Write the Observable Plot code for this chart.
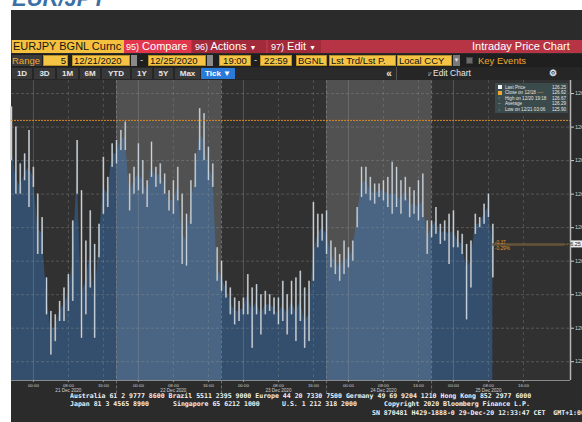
<!DOCTYPE html>
<html><head><meta charset="utf-8">
<script src="https://cdn.jsdelivr.net/npm/d3@7"></script>
<script src="https://cdn.jsdelivr.net/npm/@observablehq/plot@0.6"></script>
<style>
html,body{margin:0;padding:0;}
body{width:582px;height:422px;overflow:hidden;position:relative;background:#fff;font-family:"Liberation Sans",Arial,sans-serif;}
.a{position:absolute;white-space:pre;overflow:hidden;box-sizing:border-box;}
.r1{top:40px;height:13px;line-height:13px;font-size:11px;color:#fff;}
.r2{top:55px;height:11px;line-height:10px;font-size:9.5px;color:#111;}
.y{background:#f5c445;border:1px solid #b8902a;padding:0 1px;}
.r3{top:68px;height:11px;line-height:11px;font-size:8px;font-weight:bold;color:#e6e6e6;background:#383838;text-align:center;}
.ft{font-family:"DejaVu Sans Mono",monospace;font-size:6.55px;font-weight:bold;color:#f2f2f2;line-height:8px;height:8px;}
.lg{position:absolute;left:0;width:73px;height:5.5px;line-height:5.5px;font-size:4.6px;color:#e4e4e4;white-space:pre;}
.lg .v{position:absolute;right:2px;top:0;}
</style></head>
<body>
<div class="a" style="left:0;top:0;width:582px;height:10px;background:#fff;">
  <span style="position:absolute;left:12px;top:-12px;font-size:22px;line-height:22px;font-weight:bold;font-style:italic;color:#3c6fa6;">EUR/JPY</span>
</div>
<div class="a" style="left:11px;top:10px;width:571px;height:412px;background:#2b2b2b;"></div>

<!-- row 1 -->
<div class="a r1" style="left:11px;width:571px;background:#b73444;"></div>
<div class="a r1" style="left:12px;width:112px;background:#f4c03e;color:#151515;padding-left:1px;">EURJPY BGNL Curnc</div>
<div class="a r1" style="left:124px;width:67px;background:#e2364c;padding-left:2px;"><span style="font-size:9px">95)</span> Compare</div>
<div class="a r1" style="left:192px;width:74px;background:#a32a3b;padding-left:3px;"><span style="font-size:9px">96)</span> Actions <span style="font-size:7px">▼</span></div>
<div class="a r1" style="left:268px;width:53px;background:#a32a3b;padding-left:3px;"><span style="font-size:9px">97)</span> Edit <span style="font-size:7px">▼</span></div>
<div class="a r1" style="left:472px;width:110px;">Intraday Price Chart</div>

<!-- row 2 -->
<div class="a" style="left:11px;top:54px;width:571px;height:13px;background:#1f1f1f;"></div>
<div class="a r2" style="left:12px;width:30px;background:#3b3b3b;color:#f0a830;line-height:11px;">Range</div>
<div class="a r2 y" style="left:43px;width:25px;text-align:right;">5</div>
<div class="a r2 y" style="left:72px;width:58px;">12/21/2020</div>
<div class="a r2" style="left:131px;width:6px;background:#8a8a8a;"></div>
<div class="a r2" style="left:140px;width:6px;color:#ddd;">-</div>
<div class="a r2 y" style="left:148px;width:58px;">12/25/2020</div>
<div class="a r2" style="left:207px;width:6px;background:#8a8a8a;"></div>
<div class="a r2 y" style="left:219px;width:32px;text-align:center;">19:00</div>
<div class="a r2" style="left:254px;width:6px;color:#ddd;">-</div>
<div class="a r2 y" style="left:260px;width:32px;text-align:center;">22:59</div>
<div class="a r2 y" style="left:296px;width:31px;">BGNL</div>
<div class="a r2 y" style="left:329px;width:67px;">Lst Trd/Lst P.</div>
<div class="a r2 y" style="left:397px;width:55px;">Local CCY</div>
<div class="a r2" style="left:453px;width:7px;background:#7a7a7a;color:#ddd;font-size:6px;text-align:center;">▼</div>
<div class="a" style="left:466px;top:57px;width:7px;height:7px;background:#6a6a6a;border:1px solid #444;"></div>
<div class="a r2" style="left:478px;width:60px;color:#f0a830;line-height:11px;">Key Events</div>

<!-- row 3 -->
<div class="a" style="left:11px;top:67px;width:571px;height:13px;background:#262626;"></div>
<div class="a r3" style="left:12px;width:20px;">1D</div>
<div class="a r3" style="left:34px;width:21px;">3D</div>
<div class="a r3" style="left:57px;width:21px;">1M</div>
<div class="a r3" style="left:80px;width:20px;">6M</div>
<div class="a r3" style="left:102px;width:28px;">YTD</div>
<div class="a r3" style="left:132px;width:20px;">1Y</div>
<div class="a r3" style="left:154px;width:19px;">5Y</div>
<div class="a r3" style="left:175px;width:25px;">Max</div>
<div class="a r3" style="left:201px;width:34px;background:#2a7ad9;color:#fff;">Tick ▼</div>
<div class="a r3" style="left:236px;width:160px;background:#2a2a2a;"></div>
<div class="a r3" style="left:384px;width:10px;background:transparent;font-size:10px;">«</div>
<div class="a" style="left:396px;top:67px;width:1px;height:13px;background:#555;"></div>
<div class="a r3" style="left:428px;width:60px;background:transparent;font-weight:normal;font-size:8.5px;text-align:left;"><span style="font-size:6px">⁞⁄</span> Edit Chart</div>
<div class="a r3" style="left:546px;width:14px;background:transparent;font-size:9px;">⚙</div>

<div id="chart" class="a" style="left:11px;top:80px;width:571px;height:318px;overflow:visible;"></div>

<!-- legend -->
<div id="legend" class="a" style="left:495px;top:83px;width:73px;height:30px;background:rgba(60,76,76,0.95);"></div>

<!-- footer -->
<div class="a ft" style="left:70px;top:392px;width:512px;">Australia 61 2 9777 8600 Brazil 5511 2395 9000 Europe 44 20 7330 7500 Germany 49 69 9204 1210 Hong Kong 852 2977 6000</div>
<div class="a ft" style="left:70px;top:400px;width:100px;">Japan 81 3 4565 8900</div>
<div class="a ft" style="left:173px;top:400px;width:100px;">Singapore 65 6212 1000</div>
<div class="a ft" style="left:282px;top:400px;width:100px;">U.S. 1 212 318 2000</div>
<div class="a ft" style="left:384px;top:400px;width:198px;">Copyright 2020 Bloomberg Finance L.P.</div>
<div class="a ft" style="left:372px;top:409px;width:210px;">SN 870481 H429-1888-0 29-Dec-20 12:33:47 CET  GMT+1:00</div>

<script>
// ---- data (hourly bars from 20 Dec 2020 19:00) ----
const startTime = "2020-12-20T19:00:00Z";
const hi = [
126.66,126.60,126.49,126.52,126.59,126.48,126.40,126.33,126.15,126.05,
126.04,126.08,126.12,126.16,126.32,126.56,126.41,126.26,126.35,126.25,
126.31,126.51,126.45,126.55,126.56,126.59,126.615,126.46,126.48,126.55,
126.50,126.44,126.555,126.48,126.49,126.46,126.41,126.44,126.48,126.40,
126.34,126.44,126.52,126.655,126.64,126.54,126.49,126.24,126.20,126.14,
126.12,126.09,126.08,126.09,126.16,126.12,126.13,126.10,126.11,126.10,
126.09,126.09,126.14,126.10,126.14,126.15,126.17,126.12,126.14,126.375,
126.34,126.34,126.35,126.26,126.24,126.22,126.26,126.24,126.26,126.36,
126.48,126.48,126.45,126.43,126.43,126.44,126.45,126.495,126.48,126.44,
126.45,126.42,126.41,126.44,126.46,126.32,126.32,126.36,126.31,126.32,
126.34,126.35,126.29,126.28,126.25,126.26,126.34,126.33,126.37,126.40,
126.31];
const lo = [
126.50,126.40,126.40,126.44,126.36,126.42,126.22,126.22,126.04,125.92,
125.96,126.02,126.02,126.05,126.08,126.40,125.97,126.04,126.12,125.97,
126.21,126.34,126.36,126.48,126.49,126.53,126.53,126.35,126.40,126.41,
126.40,126.36,126.45,126.42,126.43,126.40,126.35,126.34,126.38,126.19,
126.185,126.31,126.42,126.53,126.50,126.44,126.42,126.14,126.11,126.09,
126.04,126.01,126.02,126.04,126.04,125.94,126.04,125.98,126.04,126.05,
126.04,126.01,126.02,125.98,126.04,125.96,126.02,125.94,125.96,126.14,
126.24,126.26,126.22,126.18,126.16,126.14,126.16,126.18,126.20,126.30,
126.39,126.40,126.38,126.37,126.39,126.38,126.36,126.34,126.36,126.34,
126.38,126.33,126.34,126.32,126.33,126.22,126.27,126.28,126.25,126.26,
126.19,126.24,126.24,126.22,126.025,126.12,126.28,126.30,126.31,126.33,
126.15];
const close = [
126.54,126.45,126.42,126.46,126.48,126.45,126.30,126.28,126.10,126.00,
126.00,126.05,126.07,126.10,126.20,126.46,126.10,126.14,126.22,126.08,
126.26,126.42,126.40,126.52,126.52,126.56,126.57,126.40,126.44,126.46,
126.44,126.40,126.48,126.45,126.46,126.42,126.38,126.38,126.42,126.28,
126.26,126.36,126.46,126.58,126.56,126.48,126.45,126.18,126.15,126.12,
126.08,126.05,126.05,126.06,126.10,126.05,126.08,126.04,126.07,126.07,
126.06,126.04,126.07,126.04,126.08,126.05,126.08,126.02,126.04,126.22,
126.28,126.30,126.28,126.22,126.20,126.18,126.20,126.21,126.23,126.33,
126.43,126.44,126.41,126.40,126.41,126.41,126.40,126.40,126.40,126.38,
126.41,126.37,126.37,126.36,126.38,126.27,126.30,126.32,126.28,126.29,
126.28,126.29,126.26,126.25,126.18,126.20,126.31,126.31,126.34,126.36,
126.25];

const sessionStarts = ["2020-12-20T19:00:00Z","2020-12-21T19:00:00Z","2020-12-22T19:00:00Z","2020-12-23T19:00:00Z","2020-12-24T19:00:00Z"];
const chartEnd = "2020-12-26T02:45:00Z";
const tickDays = ["2020-12-21","2020-12-22","2020-12-23","2020-12-24","2020-12-25"];
const tickHours = ["00:00","08:00","16:00"];
const yTicks = [125.9,126.0,126.1,126.2,126.3,126.4,126.5,126.6,126.7];
const yDomain = [125.844, 126.739];
const prevClose = 126.62;
const lastPrice = 126.25;
const changeLabels = ["-0.37","-0.29%"];
const legendLabels = ["Last Price","Close on 12/18","High on 12/20 19:18","Average","Low on 12/21 03:06"];
const legendValues = ["126.25","126.62","126.67","126.29","125.90"];

// ---- build ----
const HOUR = 3600e3;
const t0 = new Date(startTime);
const rows = hi.map((h, i) => ({t: new Date(+t0 + i * HOUR), hi: h, lo: lo[i], close: close[i]}));
const tEnd = new Date(chartEnd);
const lastT = rows[rows.length - 1].t;
const bands = sessionStarts.map((s, i) => ({x1: new Date(s), x2: i < sessionStarts.length - 1 ? new Date(sessionStarts[i + 1]) : tEnd, fill: i % 2 ? "#515151" : "#313131"}));
const dividers = sessionStarts.slice(1).map(s => new Date(s));
const xTicks = tickDays.flatMap(d => tickHours.map(h => new Date(d + "T" + h + ":00Z")));
const midnights = xTicks.filter(d => d.getUTCHours() === 0);
const others = xTicks.filter(d => d.getUTCHours() !== 0);
const dateTicks = tickDays.map(d => new Date(d + "T08:00:00Z"));
const [yMin, yMax] = yDomain;

const tag = (index, scales) => {
  const g = d3.create("svg:g");
  const x = scales.x(tEnd), y = scales.y(lastPrice);
  g.append("rect").attr("x", x + 1).attr("y", y - 3.5).attr("width", 16).attr("height", 7).attr("fill", "#ececec");
  g.append("text").attr("x", x + 2.5).attr("y", y).attr("dy", "0.35em").attr("font-size", 5.5).attr("fill", "#222").text(lastPrice.toFixed(2));
  return g.node();
};

const chart = Plot.plot({
  width: 571, height: 318,
  marginLeft: 0, marginRight: 12, marginTop: 0, marginBottom: 18,
  style: {background: "transparent", fontFamily: "Liberation Sans, Arial, sans-serif", overflow: "visible"},
  x: {type: "utc", domain: [t0, tEnd]},
  y: {domain: yDomain},
  marks: [
    Plot.rect(bands, {x1: "x1", x2: "x2", y1: yMin, y2: yMax, fill: "fill"}),
    Plot.areaY(rows, {x: "t", y1: yMin, y2: "close", fill: "rgb(57,150,250)", fillOpacity: 0.3}),
    Plot.ruleY(yTicks, {stroke: "#9a9a9a", strokeOpacity: 0.35, strokeDasharray: "3,2"}),
    Plot.ruleX(midnights, {stroke: "#9a9a9a", strokeOpacity: 0.35}),
    Plot.ruleX(others, {stroke: "#9a9a9a", strokeOpacity: 0.3, strokeDasharray: "3,3"}),
    Plot.ruleX(dividers, {y1: yMin - 0.04, y2: yMax, stroke: "#808080", strokeOpacity: 0.8, strokeDasharray: "3,2"}),
    Plot.ruleX(rows, {x: "t", y1: "lo", y2: "hi", stroke: "#8f8f8f", strokeWidth: 1.8}),
    Plot.ruleX(rows, {x: "t", y1: "lo", y2: "hi", stroke: "#d6e6f4", strokeWidth: 0.8}),
    Plot.ruleY([prevClose], {stroke: "#d98c1f", strokeWidth: 1, strokeDasharray: "2,1"}),
    Plot.ruleY([lastPrice], {x1: lastT, x2: tEnd, stroke: "#66553a", strokeWidth: 2.5}),
    Plot.text([changeLabels[0]], {x: lastT, y: lastPrice, text: d => d, dx: 2, dy: -1.5, textAnchor: "start", fontSize: 4.8, fill: "#e8962a"}),
    Plot.text([changeLabels[1]], {x: lastT, y: lastPrice, text: d => d, dx: 2, dy: 4.5, textAnchor: "start", fontSize: 4.8, fill: "#e8962a"}),
    Plot.ruleY([yMin], {stroke: "#8a8a8a"}),
    Plot.ruleX([tEnd], {stroke: "#b4b4b4", strokeWidth: 1.5}),
    Plot.axisX({ticks: xTicks, tickFormat: d3.utcFormat("%H:%M"), tickSize: 2, tickPadding: 1, fontSize: 4.4, color: "#cfcfcf", stroke: "#9a9a9a"}),
    Plot.axisX({ticks: dateTicks, tickFormat: d3.utcFormat("%d %b %Y"), tickSize: 0, tickPadding: 8.5, fontSize: 4.6, color: "#cfcfcf"}),
    Plot.axisY({anchor: "right", ticks: yTicks, tickFormat: d => d.toFixed(2), tickSize: 3, tickPadding: 1.5, fontSize: 5.5, color: "#d0d0d0"}),
    tag
  ]
});
document.getElementById("chart").appendChild(chart);

// legend
const lg = document.getElementById("legend");
const icons = [
  '<span style="display:inline-block;width:4px;height:4px;background:#f4f4f4;vertical-align:middle"></span>',
  '<span style="display:inline-block;width:4px;height:4px;background:#f0a830;vertical-align:middle"></span>',
  '<span style="color:#bbb">↑</span>',
  '<span style="color:#bbb">–</span>',
  '<span style="color:#bbb">↓</span>'
];
legendLabels.forEach((l, i) => {
  const d = document.createElement("div");
  d.className = "lg";
  d.style.top = (1.5 + i * 5.5) + "px";
  const extra = i === 1 ? ' <span style="color:#f0a830">----</span>' : "";
  d.innerHTML = '<span style="position:absolute;left:3px">' + icons[i] + '</span><span style="position:absolute;left:10px">' + l + extra + '</span><span class="v">' + legendValues[i] + '</span>';
  lg.appendChild(d);
});
</script>
</body></html>
